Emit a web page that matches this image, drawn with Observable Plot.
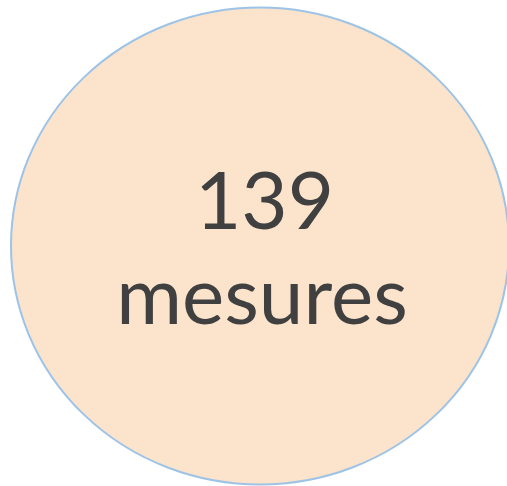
<!DOCTYPE html>
<html>
<head>
<meta charset="utf-8">
<script src="https://cdn.jsdelivr.net/npm/d3@7"></script>
<script src="https://cdn.jsdelivr.net/npm/@observablehq/plot@0.6"></script>
<style>
  html, body { margin: 0; padding: 0; background: #fff; }
  svg { display: block; }
</style>
</head>
<body>
<div id="chart"></div>
<script>
// Data
const counts = [139];
const units = ["mesures"];

const W = 507, H = 486;
const RY = 238.5, RX = 249;

const bubble = counts.map((c, i) => ({count: c, unit: units[i]}));

const chart = Plot.plot({
  width: W,
  height: H,
  marginLeft: 12,
  marginRight: 0,
  marginTop: 5,
  marginBottom: 0,
  style: {background: "white", fontFamily: "Lato", overflow: "visible"},
  marks: [
    Plot.dot(bubble, {
      frameAnchor: "middle",
      r: RY,
      fill: "#FCE4CC",
      stroke: "#9DC3E6",
      strokeWidth: 2,
      className: "bubble"
    }),
    Plot.text(bubble, {
      frameAnchor: "middle",
      text: d => String(d.count),
      lineAnchor: "bottom",
      dx: 4.5,
      dy: -17.5,
      fontSize: 80,
      fontFamily: "Lato",
      fill: "#404040"
    }),
    Plot.text(bubble, {
      frameAnchor: "middle",
      text: d => d.unit,
      lineAnchor: "bottom",
      dx: 2,
      dy: 77.5,
      fontSize: 80,
      fontFamily: "Lato",
      fill: "#404040"
    })
  ]
});

// Stretch the circle horizontally into the reference's ellipse
d3.select(chart).selectAll(".bubble circle, .bubble path").each(function() {
  const el = d3.select(this);
  let cx = +el.attr("cx"), cy = +el.attr("cy");
  if (isNaN(cx) || isNaN(cy)) {
    const bb = this.getBBox();
    cx = bb.x + bb.width / 2; cy = bb.y + bb.height / 2;
  }
  el.attr("vector-effect", "non-scaling-stroke")
    .attr("transform", `translate(${cx},${cy}) scale(${RX / RY},1) translate(${-cx},${-cy})`);
});

document.getElementById("chart").appendChild(chart);
</script>
</body>
</html>
